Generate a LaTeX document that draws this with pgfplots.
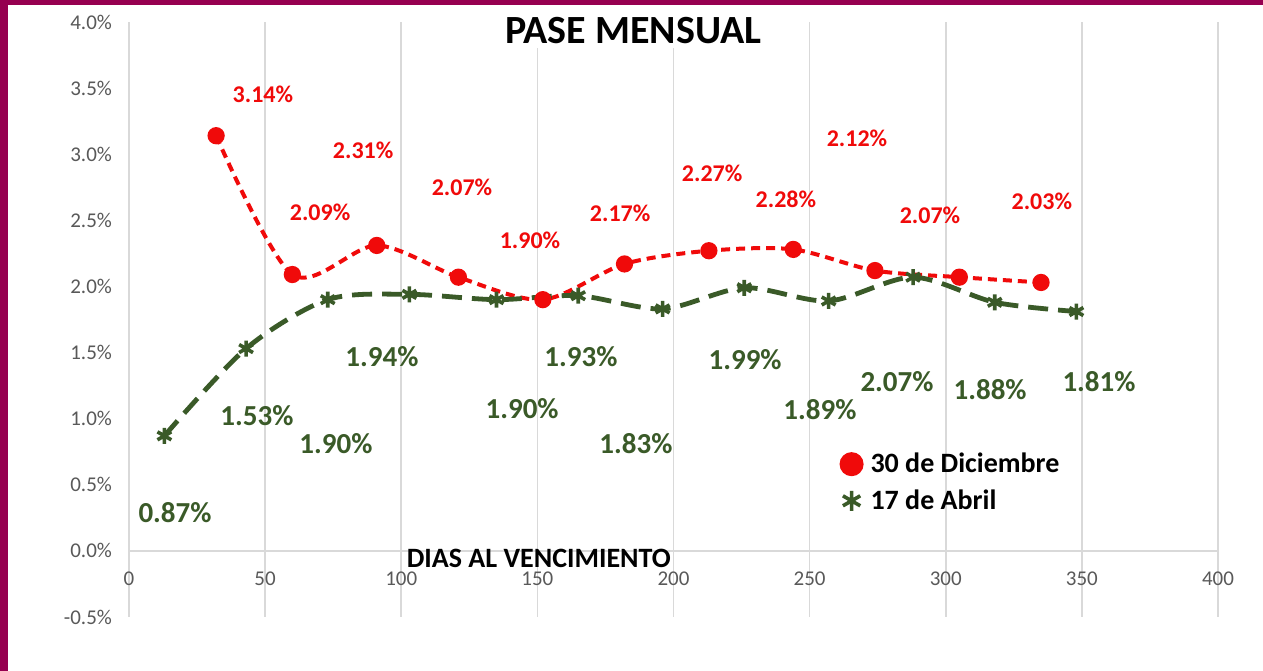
\documentclass[border=0pt]{standalone}
\usepackage{fontspec}
\setmainfont{Carlito}
\usepackage{pgfplots}
\pgfplotsset{compat=1.18}
\usetikzlibrary{backgrounds}

\definecolor{dred}{HTML}{F00A0A}
\definecolor{dgreen}{HTML}{3A5A28}
\definecolor{tickgray}{HTML}{595959}
\definecolor{gridgray}{HTML}{D9D9D9}
\definecolor{framec}{HTML}{960050}

\begin{document}
\begin{tikzpicture}
\begin{axis}[
    scale only axis,
    width=544.5pt, height=297.5pt,
    xmin=0, xmax=400, ymin=-0.5, ymax=4.0,
    axis x line=middle, axis y line=left,
    axis line style={-, draw=gridgray, line width=0.8pt},
    hide obscured x ticks=false,
    xtick={0,50,...,400},
    xticklabels={0,50,100,150,200,250,300,350,400},
    ytick={-0.5,0,0.5,1,1.5,2,2.5,3,3.5,4},
    yticklabels={-0.5\%,0.0\%,0.5\%,1.0\%,1.5\%,2.0\%,2.5\%,3.0\%,3.5\%,4.0\%},
    major tick length=0pt,
    tick label style={font=\fontsize{10.5}{12}\selectfont, text=tickgray},
    xticklabel style={yshift=-7pt},
    yticklabel style={xshift=-5pt},
    xmajorgrids,
    grid style={draw=gridgray, line width=0.8pt},
    clip=false,
    legend style={at={(rel axis cs:0.645,0.29)}, anchor=north west, draw=none, fill=none,
        font=\bfseries\fontsize{14}{16}\selectfont, row sep=3pt},
    legend cell align=left,
    legend image code/.code={\draw[#1, only marks, mark size=5pt] plot coordinates {(0.2cm,0cm)};
        \path (0cm,0cm) (0.42cm,0cm);},
]
\addplot[smooth, dred, line width=2pt, dash pattern=on 4.5pt off 3pt,
    mark=*, mark size=3.3pt, mark options={solid, fill=dred}] coordinates {
    (32,3.14) (60,2.09) (91,2.31) (121,2.07) (152,1.90) (182,2.17)
    (213,2.27) (244,2.28) (274,2.12) (305,2.07) (335,2.03)
};
\addlegendentry{30 de Diciembre}
\addplot[smooth, dgreen, line width=2.4pt, dash pattern=on 10pt off 5pt,
    mark=asterisk, mark size=4pt, mark options={solid, line width=1.8pt}] coordinates {
    (13,0.87) (43,1.53) (73,1.90) (103,1.94) (135,1.90) (165,1.93)
    (196,1.83) (226,1.99) (257,1.89) (288,2.07) (318,1.88) (348,1.81)
};
\addlegendentry{17 de Abril}

% data labels, 30 de Diciembre
\begin{scope}[every node/.style={font=\bfseries\fontsize{12}{14}\selectfont, text=dred}]
\node at (axis cs:49.2,3.455) {3.14\%};
\node at (axis cs:70.2,2.562) {2.09\%};
\node at (axis cs:86.0,3.031) {2.31\%};
\node at (axis cs:122.3,2.752) {2.07\%};
\node at (axis cs:147.3,2.351) {1.90\%};
\node at (axis cs:180.4,2.556) {2.17\%};
\node at (axis cs:214.2,2.858) {2.27\%};
\node at (axis cs:241.3,2.662) {2.28\%};
\node at (axis cs:267.4,3.123) {2.12\%};
\node at (axis cs:294.2,2.541) {2.07\%};
\node at (axis cs:335.3,2.647) {2.03\%};
\end{scope}
% data labels, 17 de Abril
\begin{scope}[every node/.style={font=\bfseries\fontsize{14.5}{17}\selectfont, text=dgreen}]
\node at (axis cs:16.9,0.287) {0.87\%};
\node at (axis cs:47.0,1.021) {1.53\%};
\node at (axis cs:76.0,0.809) {1.90\%};
\node at (axis cs:92.9,1.467) {1.94\%};
\node at (axis cs:144.4,1.074) {1.90\%};
\node at (axis cs:166.0,1.467) {1.93\%};
\node at (axis cs:186.2,0.809) {1.83\%};
\node at (axis cs:226.3,1.444) {1.99\%};
\node at (axis cs:253.8,1.066) {1.89\%};
\node at (axis cs:282.1,1.278) {2.07\%};
\node at (axis cs:316.3,1.217) {1.88\%};
\node at (axis cs:356.3,1.278) {1.81\%};
\end{scope}

\node[font=\bfseries\fontsize{20}{24}\selectfont, fill=white, inner sep=2pt]
    at (rel axis cs:0.463,0.986) {PASE MENSUAL};
\node[font=\bfseries\fontsize{14}{16}\selectfont]
    at (axis cs:150.5,-0.055) {DIAS AL VENCIMIENTO};

\coordinate (bl) at (rel axis cs:0,0);
\coordinate (tr) at (rel axis cs:1,1);
\end{axis}
\begin{scope}[on background layer]
\fill[framec] ([xshift=-64.5pt,yshift=-27pt]bl) rectangle ([xshift=22.5pt,yshift=11pt]tr);
\fill[white] ([xshift=-60.5pt,yshift=-27pt]bl) rectangle ([xshift=22.5pt,yshift=8.5pt]tr);
\end{scope}
\end{tikzpicture}
\end{document}
